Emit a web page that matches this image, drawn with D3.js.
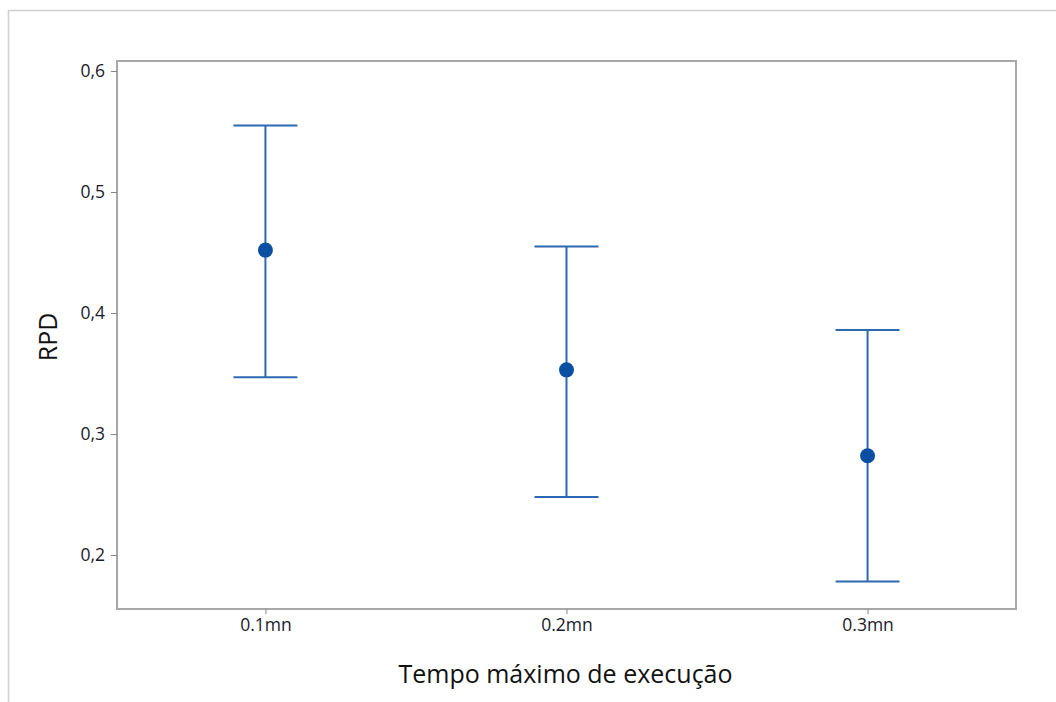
<!DOCTYPE html>
<html><head><meta charset="utf-8">
<script src="https://cdn.jsdelivr.net/npm/d3@7"></script>
<style>body{margin:0;background:#fff}svg{display:block}</style>
</head><body>
<svg id="c" width="1056" height="702"></svg>
<script>
const categories = ["0.1mn", "0.2mn", "0.3mn"];
const means = [0.452, 0.353, 0.282];
const upper = [0.555, 0.455, 0.386];
const lower = [0.347, 0.248, 0.178];
const yTicks = [0.2, 0.3, 0.4, 0.5, 0.6];
const xTitle = "Tempo máximo de execução";
const yTitle = "RPD";

const svg = d3.select("#c");
const L = 117, R = 1016, T = 61, B = 609;
const font = "'Open Sans', 'Noto Sans', sans-serif";

// outer border (cropped screenshot)
svg.append("path").attr("d", "M8.5,702 V10.5 H1056").attr("fill", "none").attr("stroke", "#d0d0d0").attr("stroke-width", 1.5);

const x = d3.scalePoint().domain(categories).range([L, R]).padding(0.493);
const y = d3.scaleLinear().domain([0.2, 0.6]).range([555, 71]);
const loc = d3.formatLocale({decimal: ",", thousands: ".", grouping: [3], currency: ["", ""]});
const fmt = loc.format(".1f");

// frame
svg.append("rect").attr("x", L).attr("y", T).attr("width", R - L).attr("height", B - T)
  .attr("fill", "none").attr("stroke", "#a8a8a8").attr("stroke-width", 2);

const yAxis = svg.append("g").attr("transform", `translate(${L},0)`)
  .call(d3.axisLeft(y).tickValues(yTicks).tickFormat(fmt).tickSize(6).tickPadding(6));
yAxis.select(".domain").remove();
yAxis.selectAll("line").attr("stroke", "#888");
yAxis.selectAll("text").attr("font-family", font).attr("font-size", 17.5).attr("fill", "#1a1a2a");

const xAxis = svg.append("g").attr("transform", `translate(0,${B})`)
  .call(d3.axisBottom(x).tickSize(5).tickPadding(5));
xAxis.select(".domain").remove();
xAxis.selectAll("line").attr("stroke", "#888");
xAxis.selectAll("text").attr("font-family", font).attr("font-size", 17.5).attr("fill", "#1a1a2a");

const blue = "#2c69b0";
const g = svg.append("g");
categories.forEach((c, i) => {
  const cx = x(c);
  g.append("line").attr("x1", cx).attr("x2", cx).attr("y1", y(upper[i])).attr("y2", y(lower[i]))
    .attr("stroke", blue).attr("stroke-width", 2);
  [upper[i], lower[i]].forEach(v => {
    g.append("line").attr("x1", cx - 32).attr("x2", cx + 32).attr("y1", y(v)).attr("y2", y(v))
      .attr("stroke", blue).attr("stroke-width", 2);
  });
  g.append("circle").attr("cx", cx).attr("cy", y(means[i])).attr("r", 7.5).attr("fill", "#0b4fa3");
});

svg.append("text").attr("x", (L + R) / 2 - 1).attr("y", 683).attr("text-anchor", "middle")
  .attr("font-family", font).attr("font-size", 25).attr("fill", "#111").text(xTitle);
svg.append("text").attr("transform", `translate(57,${(T + B) / 2 + 2}) rotate(-90)`).attr("text-anchor", "middle")
  .attr("font-family", font).attr("font-size", 25).attr("fill", "#111").text(yTitle);
</script>
</body></html>
